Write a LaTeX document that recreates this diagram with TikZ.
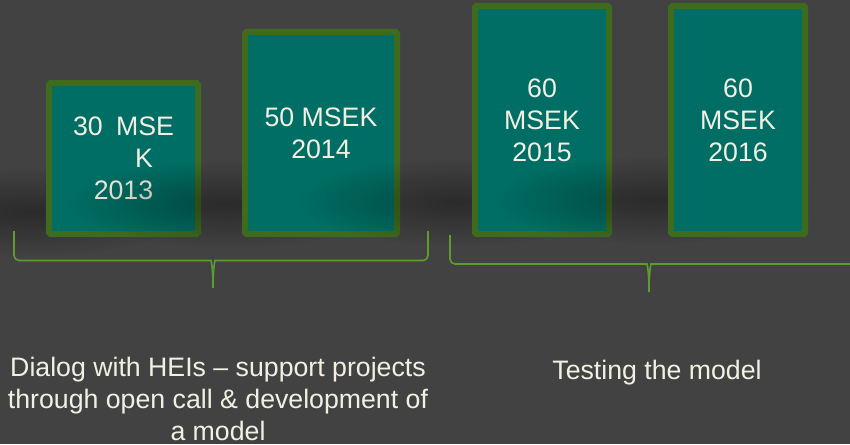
\documentclass[tikz,border=0pt]{standalone}
\usepackage{fontspec}
\setmainfont{Liberation Sans}
\usetikzlibrary{fadings}
\definecolor{fond}{HTML}{424242}
\definecolor{sarcelle}{HTML}{006E64}
\definecolor{bordure}{HTML}{3F6B1F}
\definecolor{accolade}{HTML}{5C9E2E}
\definecolor{texte}{HTML}{F2F0E2}
\tikzfading[name=ombrefloue, inner color=transparent!65, outer color=transparent!100]

\begin{document}
\begin{tikzpicture}[x=1pt,y=-1pt]
\tikzstyle{accol}=[accolade,line width=1.6pt,rounded corners=5pt]
\tikzstyle{ombre}=[black,path fading=ombrefloue]
\tikzset{budget/.style={draw=bordure,line width=6pt,fill=sarcelle,rounded corners=1.5pt,text=texte,
font=\fontsize{26.7}{32}\selectfont,align=center,inner sep=0pt,minimum width=134pt,minimum height=#1},
budget/.default={228pt}}
\tikzset{legende/.style={text=texte,font=\fontsize{26.7}{32}\selectfont,align=center,inner sep=0pt}}
\useasboundingbox[fill=fond] (0,0) rectangle (850,444);

% ombres et boites
\fill[ombre] (31,212) ellipse [x radius=160, y radius=44];
\node[budget=151pt,minimum width=149pt] (B13) at (123.5,158.5){30\enspace MSE\\\hspace*{41pt}K\\2013};
\fill[ombre] (227,204) ellipse [x radius=160, y radius=44];
\node[budget=202pt,minimum width=152pt] (B14) at (321,133){50 MSEK\\2014};
\fill[ombre] (457,202) ellipse [x radius=160, y radius=44];
\node[budget] (B15) at (542,120){60\\MSEK\\2015};
\fill[ombre] (653,200) ellipse [x radius=160, y radius=44];
\node[budget] (B16) at (738,120){60\\MSEK\\2016};

% accolades
\coordinate (G1) at (14,231);
\coordinate (D1) at (428,231);
\coordinate (P1) at (213,291);
\draw[accol] (G1) -- (14,260.5) -- (206,260.5) .. controls (211,260.5) and (213,268) .. (P1)
  .. controls (213,268) and (215,260.5) .. (220,260.5) -- (428,260.5) -- (D1);

\coordinate (G2) at (450,235);
\coordinate (D2) at (852,264);
\coordinate (P2) at (649,295);
\draw[accol] (G2) -- (450,264) -- (642,264) .. controls (647,264) and (649,271) .. (P2)
  .. controls (649,271) and (651,264) .. (656,264) -- (D2);

\node[legende] (L1) at (218,398.5){Dialog with HEIs – support projects\\through open call \& development of\\a model};
\node[legende] (L2) at (657,373){Testing the model};
\end{tikzpicture}
\end{document}
